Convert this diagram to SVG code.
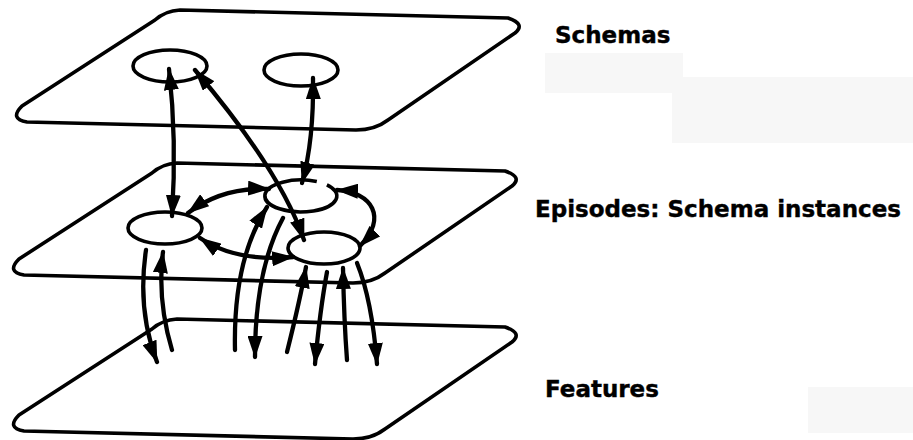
<svg xmlns="http://www.w3.org/2000/svg" width="913" height="440" viewBox="0 0 913 440">
<style>
.plane{fill:none;stroke:#000;stroke-width:3.6;stroke-linejoin:round}
.node{fill:none;stroke:#000;stroke-width:3.6}
.ln{fill:none;stroke:#000;stroke-width:4.3;stroke-linecap:round}
.dbl{marker-start:url(#ah);marker-end:url(#ah)}
.one{marker-end:url(#ah)}
.lbl{font-family:"DejaVu Sans","Liberation Sans",sans-serif;font-weight:bold;font-size:23px;fill:#000;stroke:#000;stroke-width:0.4}
.smudge{fill:#f7f7f7}
</style>
<defs>
<marker id="ah" viewBox="0 0 22 15" refX="21" refY="7.5" markerWidth="22" markerHeight="15" markerUnits="userSpaceOnUse" orient="auto-start-reverse">
<path d="M0,0 L22,7.5 L0,15 Z" fill="#000"/>
</marker>
<path id="pl" d="M 180,10 L 508,18 Q 526,24 515,33 L 388,120 Q 375,130 356,130 L 27,122 Q 9,119 22,106 L 155,20 Q 165,11 180,10 Z"/>
</defs>
<rect width="913" height="440" fill="#fff"/>
<g id="smudges">
<rect class="smudge" x="545" y="53" width="138" height="40"/>
<rect class="smudge" x="672" y="77" width="241" height="66"/>
<rect class="smudge" x="808" y="387" width="105" height="46"/>
</g>
<g id="plane-schemas"><use href="#pl" class="plane"/></g>
<g id="plane-episodes"><use href="#pl" class="plane" transform="translate(-3,153)"/></g>
<g id="plane-features"><use href="#pl" class="plane" transform="translate(-3,309)"/></g>
<g id="schema-a"><ellipse class="node" cx="170" cy="66" rx="37" ry="16"/></g>
<g id="schema-b"><ellipse class="node" cx="301" cy="70" rx="37" ry="16"/></g>
<g id="episode-c"><ellipse class="node" cx="165" cy="228" rx="37" ry="16"/></g>
<g id="episode-d"><path class="node" d="M 326.9,184.9 A 36 16 0 1 1 316.8,181.6"/></g>
<g id="episode-e"><ellipse class="node" cx="324" cy="248" rx="36" ry="16"/></g>
<g id="connectors">
<path class="ln dbl" d="M 169,69 Q 177,140 172,216"/>
<path class="ln dbl" d="M 195,70 Q 280,170 304,240"/>
<path class="ln dbl" d="M 313,78 Q 314,140 302,183"/>
<path class="ln dbl" d="M 188,213 Q 222,187 269,189"/>
<path class="ln dbl" d="M 200,238 Q 235,262 293,257"/>
<path class="ln dbl" d="M 337,190 C 372,192 388,218 360,246"/>
<path class="ln one" d="M 146,250 Q 137,310 157,362"/>
<path class="ln one" d="M 172,350 Q 157,300 163,252"/>
<path class="ln one" d="M 235,350 Q 233,260 267,207"/>
<path class="ln one" d="M 283,218 Q 255,270 255,357"/>
<path class="ln one" d="M 287,352 Q 300,300 306,267"/>
<path class="ln one" d="M 327,272 Q 320,310 315,364"/>
<path class="ln one" d="M 347,360 Q 344,320 343,268"/>
<path class="ln one" d="M 357,263 Q 372,300 377,364"/>
</g>
<g id="labels">
<text class="lbl" x="555" y="43">Schemas</text>
<text class="lbl" x="535" y="217">Episodes: Schema instances</text>
<text class="lbl" x="545" y="397">Features</text>
</g>
</svg>
